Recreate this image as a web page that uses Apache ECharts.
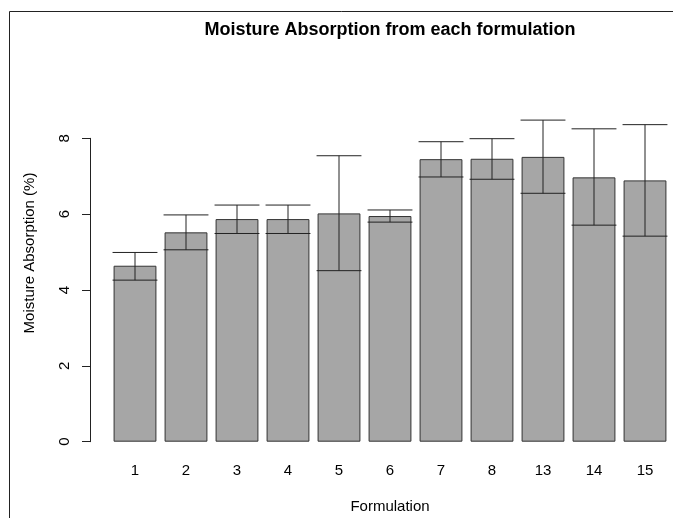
<!DOCTYPE html>
<html>
<head>
<meta charset="utf-8">
<script src="https://cdn.jsdelivr.net/npm/echarts@6/dist/echarts.min.js"></script>
<style>
  html, body { margin: 0; padding: 0; background: #fff; }
  #main { width: 673px; height: 518px; }
</style>
</head>
<body>
<div id="main"></div>
<script>
// formulations on the x axis
const formulations = ['1', '2', '3', '4', '5', '6', '7', '8', '13', '14', '15'];
// mean moisture absorption (%)
const absorption = [4.64, 5.52, 5.87, 5.87, 6.02, 5.95, 7.45, 7.46, 7.51, 6.97, 6.89];
// error bar ends
const errLow = [4.26, 5.06, 5.49, 5.49, 4.51, 5.79, 6.98, 6.92, 6.55, 5.71, 5.42];
const errHigh = [4.99, 5.98, 6.24, 6.24, 7.54, 6.11, 7.91, 7.99, 8.48, 8.25, 8.36];
const yTicks = [0, 2, 4, 6, 8];

const font = 'Liberation Sans, Arial, sans-serif';
const chart = echarts.init(document.getElementById('main'));

chart.setOption({
  animation: false,
  title: {
    text: 'Moisture Absorption from each formulation',
    left: 390,
    top: 21,
    padding: 0,
    textAlign: 'center',
    textStyle: { fontFamily: font, fontSize: 18, fontWeight: 'bold', color: '#000' }
  },
  graphic: [
    {
      type: 'rect',
      shape: { x: 9.5, y: 11.5, width: 700, height: 600 },
      style: { fill: 'none', stroke: '#222', lineWidth: 1 }
    },
    {
      type: 'text',
      x: 30,
      y: 253,
      rotation: Math.PI / 2,
      style: {
        text: 'Moisture Absorption (%)',
        fontFamily: font, fontSize: 15, fill: '#000',
        align: 'center', verticalAlign: 'middle'
      }
    }
  ],
  grid: { left: 109.5, right: 2.5, top: 138.3, bottom: 76.3, containLabel: false, outerBoundsMode: 'none' },
  xAxis: {
    type: 'category',
    data: formulations,
    name: 'Formulation',
    nameLocation: 'middle',
    nameGap: 58,
    nameTextStyle: { fontFamily: font, fontSize: 15, color: '#000' },
    axisLine: { show: false },
    axisTick: { show: false },
    axisLabel: { fontFamily: font, fontSize: 15, color: '#000', margin: 22 }
  },
  yAxis: {
    type: 'value',
    min: yTicks[0],
    max: yTicks[yTicks.length - 1],
    interval: 2,
    offset: 19.5,
    splitLine: { show: false },
    axisLine: { show: true, lineStyle: { color: '#222' } },
    axisTick: { show: true, length: 8, lineStyle: { color: '#222' } },
    axisLabel: { fontFamily: font, fontSize: 15, color: '#000', rotate: 90, margin: 18 }
  },
  series: [
    {
      type: 'bar',
      data: absorption,
      barCategoryGap: '16%',
      itemStyle: { color: '#a6a6a6', borderColor: '#333', borderWidth: 1 }
    },
    {
      type: 'custom',
      clip: false,
      z: 5,
      data: formulations.map((f, i) => [i, errLow[i], errHigh[i]]),
      renderItem: function (params, api) {
        const lo = api.coord([api.value(0), api.value(1)]);
        const hi = api.coord([api.value(0), api.value(2)]);
        const half = api.size([1, 0])[0] * 0.44;
        const st = { stroke: '#222', lineWidth: 1 };
        return {
          type: 'group',
          children: [
            { type: 'line', shape: { x1: lo[0], y1: lo[1], x2: hi[0], y2: hi[1] }, style: st },
            { type: 'line', shape: { x1: lo[0] - half, y1: lo[1], x2: lo[0] + half, y2: lo[1] }, style: st },
            { type: 'line', shape: { x1: hi[0] - half, y1: hi[1], x2: hi[0] + half, y2: hi[1] }, style: st }
          ]
        };
      }
    }
  ]
});
</script>
</body>
</html>
